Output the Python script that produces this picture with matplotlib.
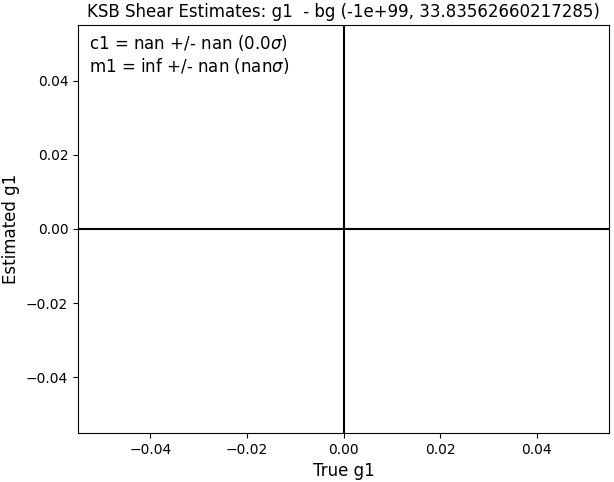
import numpy as np
import matplotlib
matplotlib.use("Agg")
import matplotlib.pyplot as plt

# no valid points survived the cut, so the scatter is empty
true_g1 = np.array([])
est_g1 = np.array([])
c1_label = r"c1 = nan +/- nan (0.0$\sigma$)"
m1_label = r"m1 = inf +/- nan (nan$\sigma$)"
title = "KSB Shear Estimates: g1  - bg (-1e+99, 33.83562660217285)"
xlim = (-0.055, 0.055)
ylim = (-0.055, 0.055)

fig = plt.figure(figsize=(6.14, 4.82), dpi=100)
ax = fig.add_axes([78 / 614, 1 - 433 / 482, 531 / 614, 408 / 482])

ax.scatter(true_g1, est_g1, s=4)
ax.axhline(0, color="k")
ax.axvline(0, color="k")
ax.set_xlim(*xlim)
ax.set_ylim(*ylim)
ax.set_xticks([-0.04, -0.02, 0.0, 0.02, 0.04])
ax.set_yticks([-0.04, -0.02, 0.0, 0.02, 0.04])
ax.set_xlabel("True g1", fontsize=12)
ax.set_ylabel("Estimated g1", fontsize=12)
ax.set_title(title, fontsize=12)
ax.text(0.02, 0.98, c1_label + "\n" + m1_label, transform=ax.transAxes,
        ha="left", va="top", fontsize=12)

fig.savefig("out.png", dpi=100)
